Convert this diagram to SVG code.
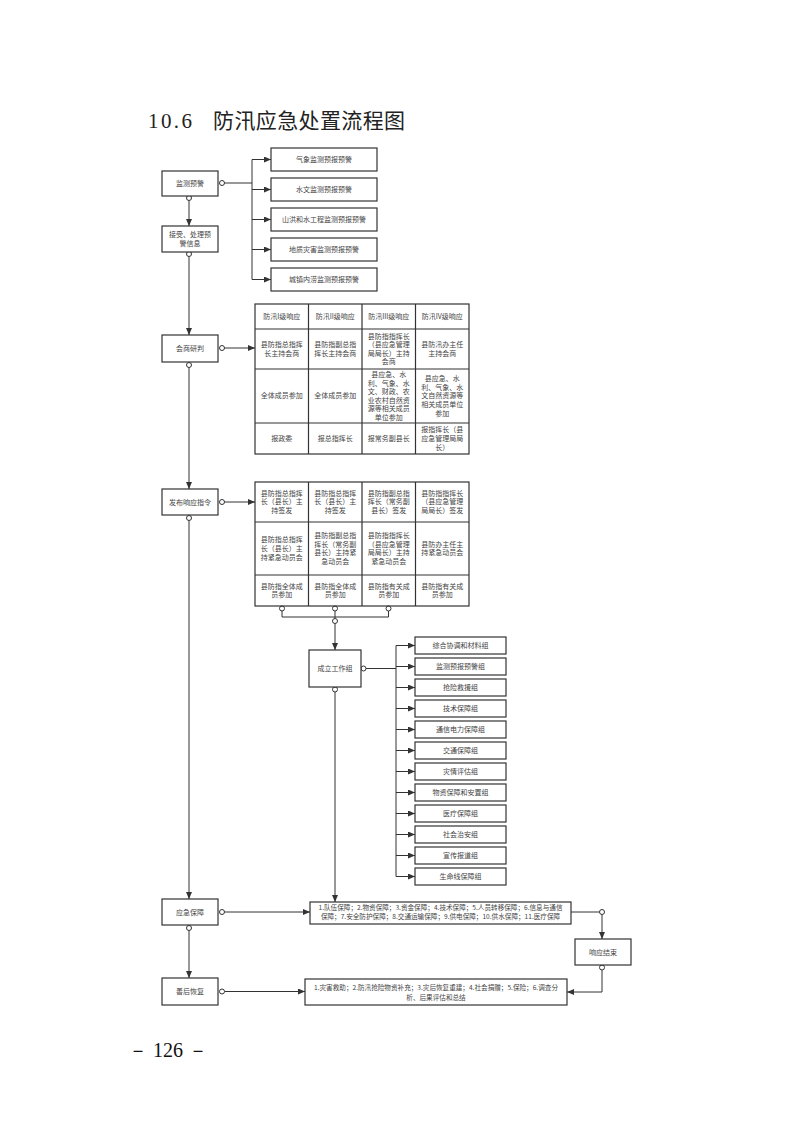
<svg xmlns="http://www.w3.org/2000/svg" width="793" height="1122" viewBox="0 0 793 1122">
<style>
.bx{fill:#fff;stroke:#333;stroke-width:1.2}
.tb{fill:none;stroke:#333;stroke-width:1.2}
.t{font-family:"Noto Sans CJK SC","Noto Sans",sans-serif;font-size:7px;fill:#444;text-anchor:middle}
.ts{font-family:"Noto Sans CJK SC","Noto Sans",sans-serif;font-size:6.6px;fill:#444;text-anchor:middle}
.ln{fill:none;stroke:#333;stroke-width:1}
.ar{fill:none;stroke:#333;stroke-width:1;marker-end:url(#ah)}
.dot{fill:#fff;stroke:#333;stroke-width:1}
.title{font-family:"Liberation Serif","Noto Sans CJK SC",serif;font-size:21px;fill:#222}
</style>
<defs>
<marker id="ah" markerUnits="userSpaceOnUse" markerWidth="7" markerHeight="6" refX="7" refY="3" orient="auto">
<path d="M0,0 L7,3 L0,6 z" fill="#333"/>
</marker>
</defs>
<rect width="793" height="1122" fill="#fff"/>
<text class="title" x="148" y="128" textLength="44" lengthAdjust="spacing">10.6</text>
<text class="title" x="213" y="128" textLength="192" lengthAdjust="spacing">防汛应急处置流程图</text>

<g id="connectors">
<path class="ln" d="M224.5,183 H252 M252,159.5 V279.5"/>
<path class="ar" d="M252,159.5 H271"/>
<path class="ar" d="M252,189.5 H271"/>
<path class="ar" d="M252,219.5 H271"/>
<path class="ar" d="M252,249.5 H271"/>
<path class="ar" d="M252,279.5 H271"/>
<path class="ar" d="M189,200.5 V226"/>
<path class="ar" d="M189,256.5 V335"/>
<path class="ar" d="M189,367.5 V489"/>
<path class="ar" d="M189,520.5 V899"/>
<path class="ar" d="M189,930.5 V978"/>
<path class="ar" d="M224.5,348 H255"/>
<path class="ar" d="M224.5,502 H255"/>
<path class="ar" d="M224.5,912 H310"/>
<path class="ar" d="M224.5,991.5 H305"/>
<path class="ln" d="M282,611 V617 H388.5 V611 M335,611 V618"/>
<path class="ar" d="M335,623.5 V650"/>
<path class="ln" d="M363.5,668.5 H396 M396,645.5 V876.5"/>
<path class="ar" d="M396,645.5 H415"/>
<path class="ar" d="M396,666.5 H415"/>
<path class="ar" d="M396,687.5 H415"/>
<path class="ar" d="M396,708.5 H415"/>
<path class="ar" d="M396,729.5 H415"/>
<path class="ar" d="M396,750.5 H415"/>
<path class="ar" d="M396,771.5 H415"/>
<path class="ar" d="M396,792.5 H415"/>
<path class="ar" d="M396,813.5 H415"/>
<path class="ar" d="M396,834.5 H415"/>
<path class="ar" d="M396,855.5 H415"/>
<path class="ar" d="M396,876.5 H415"/>
<path class="ar" d="M335,692 V902"/>
<path class="ln" d="M571,912 H599.5"/>
<path class="ar" d="M602,914.5 V939"/>
<path class="ar" d="M602,970 V992 H567"/>
<circle class="dot" cx="222" cy="183" r="2.5"/>
<circle class="dot" cx="189" cy="198" r="2.5"/>
<circle class="dot" cx="189" cy="254" r="2.5"/>
<circle class="dot" cx="222" cy="348" r="2.5"/>
<circle class="dot" cx="189" cy="365" r="2.5"/>
<circle class="dot" cx="222" cy="502" r="2.5"/>
<circle class="dot" cx="189" cy="518" r="2.5"/>
<circle class="dot" cx="282" cy="608.5" r="2.5"/>
<circle class="dot" cx="335" cy="608.5" r="2.5"/>
<circle class="dot" cx="388.5" cy="608.5" r="2.5"/>
<circle class="dot" cx="335" cy="621" r="2.5"/>
<circle class="dot" cx="363.5" cy="668.5" r="2.5"/>
<circle class="dot" cx="335" cy="689.5" r="2.5"/>
<circle class="dot" cx="222" cy="912" r="2.5"/>
<circle class="dot" cx="189" cy="928" r="2.5"/>
<circle class="dot" cx="222" cy="991.5" r="2.5"/>
<circle class="dot" cx="602" cy="912" r="2.5"/>
<circle class="dot" cx="602" cy="967.5" r="2.5"/>
</g>

<g id="n-jcyj"><rect class="bx" x="162" y="171" width="56" height="25"/><text class="t" x="190" y="186">监测预警</text></g>
<g id="n-jscl"><rect class="bx" x="162" y="226" width="56" height="26"/><text class="t" x="190" y="237">接受、处理预<tspan x="190" dy="9">警信息</tspan></text></g>
<g id="n-qx"><rect class="bx" x="271" y="148" width="106" height="23"/><text class="t" x="324" y="162">气象监测预报预警</text></g>
<g id="n-sw"><rect class="bx" x="271" y="178" width="106" height="23"/><text class="t" x="324" y="192">水文监测预报预警</text></g>
<g id="n-sh"><rect class="bx" x="271" y="208" width="106" height="23"/><text class="t" x="324" y="222">山洪和水工程监测预报预警</text></g>
<g id="n-dz"><rect class="bx" x="271" y="238" width="106" height="23"/><text class="t" x="324" y="252">地质灾害监测预报预警</text></g>
<g id="n-cz"><rect class="bx" x="271" y="268" width="106" height="23"/><text class="t" x="324" y="282">城镇内涝监测预报预警</text></g>

<g id="n-hsyp"><rect class="bx" x="162" y="335" width="56" height="27"/><text class="t" x="190" y="351">会商研判</text></g>

<g id="table-hs">
<rect class="tb" x="255" y="304" width="214" height="150"/>
<path class="tb" d="M308.5,304 V454 M362,304 V454 M415.5,304 V454 M255,329 H469 M255,369 H469 M255,423 H469"/>
<text class="t" x="281.75" y="318.9">防汛I级响应</text>
<text class="t" x="335.25" y="318.9">防汛II级响应</text>
<text class="t" x="388.75" y="318.9">防汛III级响应</text>
<text class="t" x="442.25" y="318.9">防汛IV级响应</text>
<text class="t" x="281.75" y="347.1">县防指总指挥<tspan x="281.75" dy="8.6">长主持会商</tspan></text>
<text class="t" x="335.25" y="347.1">县防指副总指<tspan x="335.25" dy="8.6">挥长主持会商</tspan></text>
<text class="t" x="388.75" y="338.5">县防指指挥长<tspan x="388.75" dy="8.6">（县应急管理</tspan><tspan x="388.75" dy="8.6">局局长）主持</tspan><tspan x="388.75" dy="8.6">会商</tspan></text>
<text class="t" x="442.25" y="347.1">县防汛办主任<tspan x="442.25" dy="8.6">主持会商</tspan></text>
<text class="t" x="281.75" y="398.4">全体成员参加</text>
<text class="t" x="335.25" y="398.4">全体成员参加</text>
<text class="t" x="388.75" y="376.9">县应急、水<tspan x="388.75" dy="8.6">利、气象、水</tspan><tspan x="388.75" dy="8.6">文、财政、农</tspan><tspan x="388.75" dy="8.6">业农村自然资</tspan><tspan x="388.75" dy="8.6">源等相关成员</tspan><tspan x="388.75" dy="8.6">单位参加</tspan></text>
<text class="t" x="442.25" y="381.2">县应急、水<tspan x="442.25" dy="8.6">利、气象、水</tspan><tspan x="442.25" dy="8.6">文自然资源等</tspan><tspan x="442.25" dy="8.6">相关成员单位</tspan><tspan x="442.25" dy="8.6">参加</tspan></text>
<text class="t" x="281.75" y="440.9">报政委</text>
<text class="t" x="335.25" y="440.9">报总指挥长</text>
<text class="t" x="388.75" y="440.9">报常务副县长</text>
<text class="t" x="442.25" y="432.3">报指挥长（县<tspan x="442.25" dy="8.6">应急管理局局</tspan><tspan x="442.25" dy="8.6">长）</tspan></text>
</g>

<g id="n-fbxy"><rect class="bx" x="162" y="489" width="56" height="26"/><text class="t" x="190" y="504.5">发布响应指令</text></g>

<g id="table-fb">
<rect class="tb" x="255" y="482" width="214" height="124"/>
<path class="tb" d="M308.5,482 V606 M362,482 V606 M415.5,482 V606 M255,522 H469 M255,575 H469"/>
<text class="t" x="281.75" y="495.8">县防指总指挥<tspan x="281.75" dy="8.6">长（县长）主</tspan><tspan x="281.75" dy="8.6">持签发</tspan></text>
<text class="t" x="335.25" y="495.8">县防指总指挥<tspan x="335.25" dy="8.6">长（县长）主</tspan><tspan x="335.25" dy="8.6">持签发</tspan></text>
<text class="t" x="388.75" y="495.8">县防指副总指<tspan x="388.75" dy="8.6">挥长（常务副</tspan><tspan x="388.75" dy="8.6">县长）签发</tspan></text>
<text class="t" x="442.25" y="495.8">县防指指挥长<tspan x="442.25" dy="8.6">（县应急管理</tspan><tspan x="442.25" dy="8.6">局局长）签发</tspan></text>
<text class="t" x="281.75" y="542.3">县防指总指挥<tspan x="281.75" dy="8.6">长（县长）主</tspan><tspan x="281.75" dy="8.6">持紧急动员会</tspan></text>
<text class="t" x="335.25" y="538">县防指副总指<tspan x="335.25" dy="8.6">挥长（常务副</tspan><tspan x="335.25" dy="8.6">县长）主持紧</tspan><tspan x="335.25" dy="8.6">急动员会</tspan></text>
<text class="t" x="388.75" y="538">县防指指挥长<tspan x="388.75" dy="8.6">（县应急管理</tspan><tspan x="388.75" dy="8.6">局局长）主持</tspan><tspan x="388.75" dy="8.6">紧急动员会</tspan></text>
<text class="t" x="442.25" y="546.6">县防办主任主<tspan x="442.25" dy="8.6">持紧急动员会</tspan></text>
<text class="t" x="281.75" y="588.6">县防指全体成<tspan x="281.75" dy="8.6">员参加</tspan></text>
<text class="t" x="335.25" y="588.6">县防指全体成<tspan x="335.25" dy="8.6">员参加</tspan></text>
<text class="t" x="388.75" y="588.6">县防指有关成<tspan x="388.75" dy="8.6">员参加</tspan></text>
<text class="t" x="442.25" y="588.6">县防指有关成<tspan x="442.25" dy="8.6">员参加</tspan></text>
</g>

<g id="n-clgzz"><rect class="bx" x="309" y="650" width="52" height="37"/><text class="t" x="335" y="671">成立工作组</text></g>

<g id="n-g1"><rect class="bx" x="415" y="637" width="91" height="17"/><text class="t" x="460.5" y="648">综合协调和材料组</text></g>
<g id="n-g2"><rect class="bx" x="415" y="658" width="91" height="17"/><text class="t" x="460.5" y="669">监测预报预警组</text></g>
<g id="n-g3"><rect class="bx" x="415" y="679" width="91" height="17"/><text class="t" x="460.5" y="690">抢险救援组</text></g>
<g id="n-g4"><rect class="bx" x="415" y="700" width="91" height="17"/><text class="t" x="460.5" y="711">技术保障组</text></g>
<g id="n-g5"><rect class="bx" x="415" y="721" width="91" height="17"/><text class="t" x="460.5" y="732">通信电力保障组</text></g>
<g id="n-g6"><rect class="bx" x="415" y="742" width="91" height="17"/><text class="t" x="460.5" y="753">交通保障组</text></g>
<g id="n-g7"><rect class="bx" x="415" y="763" width="91" height="17"/><text class="t" x="460.5" y="774">灾情评估组</text></g>
<g id="n-g8"><rect class="bx" x="415" y="784" width="91" height="17"/><text class="t" x="460.5" y="795">物资保障和安置组</text></g>
<g id="n-g9"><rect class="bx" x="415" y="805" width="91" height="17"/><text class="t" x="460.5" y="816">医疗保障组</text></g>
<g id="n-g10"><rect class="bx" x="415" y="826" width="91" height="17"/><text class="t" x="460.5" y="837">社会治安组</text></g>
<g id="n-g11"><rect class="bx" x="415" y="847" width="91" height="17"/><text class="t" x="460.5" y="858">宣传报道组</text></g>
<g id="n-g12"><rect class="bx" x="415" y="868" width="91" height="17"/><text class="t" x="460.5" y="879">生命线保障组</text></g>

<g id="n-yjbz"><rect class="bx" x="162" y="899" width="56" height="26"/><text class="t" x="190" y="914.5">应急保障</text></g>
<g id="n-bzlist"><rect class="bx" x="310" y="902" width="261" height="22"/><text class="ts" x="440.5" y="910">1.队伍保障；2.物资保障；3.资金保障；4.技术保障；5.人员转移保障；6.信息与通信<tspan x="440.5" dy="9">保障；7.安全防护保障；8.交通运输保障；9.供电保障；10.供水保障；11.医疗保障</tspan></text></g>
<g id="n-xyjs"><rect class="bx" x="575" y="939" width="56" height="26"/><text class="t" x="603" y="954.5">响应结束</text></g>
<g id="n-shhf"><rect class="bx" x="162" y="978" width="56" height="27"/><text class="t" x="190" y="994">善后恢复</text></g>
<g id="n-hflist"><rect class="bx" x="305" y="979" width="262" height="26"/><text class="ts" x="436" y="990">1.灾害救助；2.防汛抢险物资补充；3.灾后恢复重建；4.社会捐赠；5.保险；6.调查分<tspan x="436" dy="9.5">析、后果评估和总结</tspan></text></g>

<text x="128" y="1057" font-family="Liberation Serif,serif" font-size="20" fill="#111">－ 126 －</text>
</svg>
